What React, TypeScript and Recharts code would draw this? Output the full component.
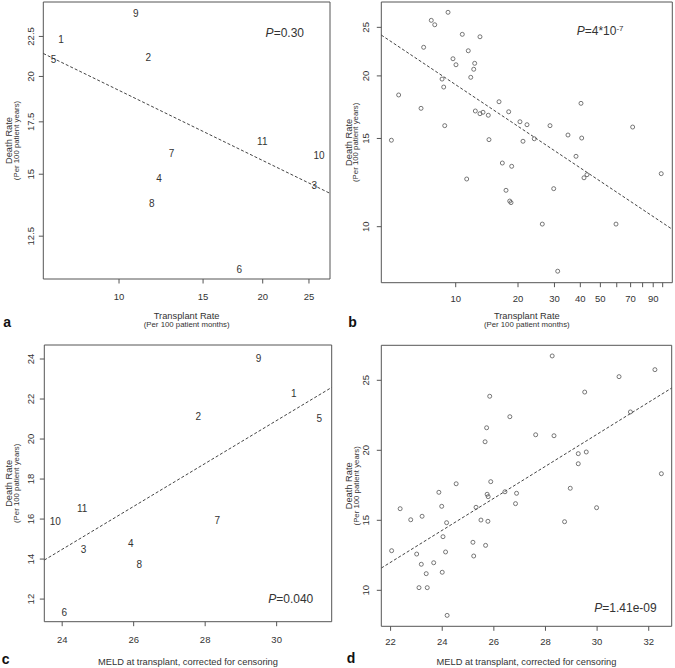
import React from 'react'
import { Label, ReferenceArea, ReferenceLine, Scatter, ScatterChart, XAxis, YAxis } from 'recharts'

const W = 675
const H = 668
const AXIS_W = 30
const AXIS_H = 30
const FONT = '"Liberation Sans", Arial, Helvetica, sans-serif'
const INK = '#333'
const FRAME = '#555'

// regions (panels a and c): labelled by region number
const regionIds = ['1', '2', '3', '4', '5', '6', '7', '8', '9', '10', '11']
const regionTxRate = [7.56, 11.52, 25.65, 12.13, 7.29, 17.87, 12.89, 11.71, 10.84, 26.24, 19.96]
const regionMeld = [30.48, 27.81, 24.6, 25.92, 31.19, 24.06, 28.34, 26.16, 29.49, 23.81, 24.56]
const regionDeathRate = [22.3, 21.15, 14.5, 14.8, 21.05, 11.35, 15.95, 13.75, 24.05, 15.87, 16.52]

// transplant centers (panel b)
const centerTxRate = [
  4.89, 5.3, 6.8, 7.0, 7.62, 7.92, 8.59, 8.75, 8.85, 9.18, 9.7, 10.03, 10.76, 11.3, 11.5, 11.82,
  12.22, 12.35, 12.44, 13.1, 13.1, 13.55, 14.37, 14.48, 16.19, 16.8, 17.5, 18.03, 18.24, 18.5,
  18.64, 20.44, 21.14, 22.1, 23.97, 26.2, 28.55, 29.75, 31.1, 34.87, 38.13, 40.3, 40.62, 41.67,
  43.08, 59.5, 71.6, 98.4,
]
const centerDeathRateB = [
  14.88, 18.32, 17.23, 22.81, 25.82, 25.3, 19.71, 19.0, 15.91, 26.79, 21.64, 21.05, 24.21, 12.45,
  22.45, 19.87, 20.62, 21.19, 17.02, 23.94, 16.81, 16.92, 16.69, 14.92, 17.76, 13.4, 11.82, 16.96,
  11.25, 11.17, 13.2, 16.2, 14.81, 15.98, 14.98, 10.12, 15.91, 11.91, 8.15, 15.24, 13.82, 17.63,
  15.03, 12.52, 12.7, 10.12, 15.81, 12.76,
]

// transplant centers (panel d)
const centerMeld = [
  22.04, 22.37, 22.78, 23.01, 23.1, 23.19, 23.22, 23.38, 23.42, 23.67, 23.87, 23.98, 24.0, 24.03,
  24.13, 24.17, 24.19, 24.54, 25.19, 25.22, 25.31, 25.5, 25.66, 25.68, 25.72, 25.74, 25.77, 25.78,
  25.84, 25.88, 26.43, 26.62, 26.84, 26.88, 27.62, 28.26, 28.33, 28.74, 28.96, 29.27, 29.27, 29.52,
  29.58, 29.98, 30.85, 31.29, 32.24, 32.49,
]
const centerDeathRateD = [
  12.83, 15.83, 15.04, 12.59, 10.19, 11.86, 15.29, 11.19, 10.19, 11.97, 17.0, 16.0, 11.29, 13.83,
  12.74, 14.83, 8.21, 17.61, 13.43, 12.45, 15.93, 15.02, 20.61, 13.21, 21.61, 16.86, 14.93, 16.69,
  23.86, 17.76, 17.04, 22.4, 16.19, 16.93, 21.11, 26.74, 21.04, 14.9, 17.29, 19.76, 19.04, 24.16,
  19.88, 15.9, 25.26, 22.74, 25.76, 18.33,
]

// fitted regression lines, end points
const fitAX = [6.94, 27.67]
const fitAY = [21.4, 14.18]
const fitBX = [4.37, 111.3]
const fitBY = [24.13, 9.88]
const fitCX = [23.5, 31.54]
const fitCY = [13.95, 22.58]
const fitDX = [21.64, 32.89]
const fitDY = [11.59, 24.45]

// ticks
const rateTicksA = [10, 15, 20, 25]
const deathTicksA = [12.5, 15, 17.5, 20, 22.5]
const rateTicksB = [10, 20, 30, 40, 50, 60, 70, 80, 90, 100]
const rateTicksBHidden = [60, 80, 100]
const deathTicksB = [10, 15, 20, 25]
const meldTicksC = [24, 26, 28, 30]
const deathTicksC = [12, 14, 16, 18, 20, 22, 24]
const meldTicksD = [22, 24, 26, 28, 30, 32]
const deathTicksD = [10, 15, 20, 25]

type Box = { left: number; top: number; right: number; bottom: number }
type Pt = { x: number; y: number; id?: string }

interface PanelProps {
  box: Box
  xLog?: boolean
  yLog?: boolean
  xDomain: [number, number]
  yDomain: [number, number]
  xTicks: number[]
  yTicks: number[]
  hiddenX?: number[]
  points: Pt[]
  textMarks?: boolean
  fitX: number[]
  fitY: number[]
  xTickBase: number
  yTickBase: number
  decor: React.ReactNode
}

function Panel(p: PanelProps) {
  const { box } = p
  const margin = {
    top: box.top,
    left: box.left - AXIS_W,
    right: W - box.right,
    bottom: H - box.bottom - AXIS_H,
  }
  const fmt = (v: number) => (p.hiddenX && p.hiddenX.includes(v) ? '' : String(v))
  return (
    <ScatterChart width={W} height={H} margin={margin} style={{ position: 'absolute', left: 0, top: 0 }}>
      <XAxis
        type="number"
        dataKey="x"
        scale={p.xLog ? 'log' : 'linear'}
        domain={p.xDomain}
        ticks={p.xTicks}
        interval={0}
        allowDataOverflow
        height={AXIS_H}
        axisLine={false}
        tickLine={{ stroke: FRAME }}
        tickSize={4.5}
        tick={(t: any) => (
          <text x={t.x} y={p.xTickBase} textAnchor="middle" fontSize={9.5} fill={INK} fontFamily={FONT}>
            {fmt(t.payload.value)}
          </text>
        )}
      >
        <Label content={() => <g>{p.decor}</g>} />
      </XAxis>
      <YAxis
        type="number"
        dataKey="y"
        scale={p.yLog ? 'log' : 'linear'}
        domain={p.yDomain}
        ticks={p.yTicks}
        interval={0}
        allowDataOverflow
        width={AXIS_W}
        axisLine={false}
        tickLine={{ stroke: FRAME }}
        tickSize={4.5}
        tick={(t: any) => (
          <text
            x={p.yTickBase}
            y={t.y}
            transform={`rotate(-90 ${p.yTickBase} ${t.y})`}
            textAnchor="middle"
            fontSize={9.5}
            fill={INK}
            fontFamily={FONT}
          >
            {t.payload.value}
          </text>
        )}
      />
      <ReferenceArea
        x1={p.xDomain[0]}
        x2={p.xDomain[1]}
        y1={p.yDomain[0]}
        y2={p.yDomain[1]}
        fill="none"
        stroke={FRAME}
        strokeWidth={1}
        ifOverflow="visible"
      />
      <ReferenceLine
        segment={[
          { x: p.fitX[0], y: p.fitY[0] },
          { x: p.fitX[1], y: p.fitY[1] },
        ]}
        stroke="#444"
        strokeDasharray="3 2"
        ifOverflow="visible"
      />
      <Scatter
        data={p.points}
        isAnimationActive={false}
        shape={(s: any) =>
          p.textMarks ? (
            <text x={s.cx} y={s.cy + 3.6} textAnchor="middle" fontSize={10} fill={INK} fontFamily={FONT}>
              {s.payload.id}
            </text>
          ) : (
            <circle cx={s.cx} cy={s.cy} r={2} fill="none" stroke={FRAME} strokeWidth={0.8} />
          )
        }
      />
    </ScatterChart>
  )
}

function XTitle({ x, y, title, sub }: { x: number; y: number; title: string; sub?: string }) {
  return (
    <g fontFamily={FONT} fill={INK} textAnchor="middle">
      <text x={x} y={y} fontSize={9.3}>{title}</text>
      {sub && <text x={x} y={y + 8} fontSize={7.8}>{sub}</text>}
    </g>
  )
}

function YTitle({ x, y }: { x: number; y: number }) {
  return (
    <g fontFamily={FONT} fill={INK} textAnchor="middle">
      <text x={x} y={y} transform={`rotate(-90 ${x} ${y})`} fontSize={9.3}>Death Rate</text>
      <text x={x + 6.8} y={y} transform={`rotate(-90 ${x + 6.8} ${y})`} fontSize={7.8}>
        (Per 100 patient years)
      </text>
    </g>
  )
}

function Letter({ x, y, ch }: { x: number; y: number; ch: string }) {
  return (
    <text x={x} y={y} fontFamily={FONT} fontWeight="bold" fontSize={14} fill="#111">
      {ch}
    </text>
  )
}

function PText({ x, y, value, sup, anchor = 'end' }: { x: number; y: number; value: string; sup?: string; anchor?: string }) {
  return (
    <text x={x} y={y} fontFamily={FONT} fontSize={12} fill={INK} textAnchor={anchor as any}>
      <tspan fontStyle="italic">P</tspan>
      <tspan>{value}</tspan>
      {sup && (
        <tspan dy={-4.5} fontSize={8}>
          {sup}
        </tspan>
      )}
    </text>
  )
}

const toPts = (xs: number[], ys: number[], ids?: string[]): Pt[] =>
  xs.map((x, i) => ({ x, y: ys[i], id: ids ? ids[i] : undefined }))

export default function App() {
  const boxA = { left: 43.3, top: 2, right: 330, bottom: 279 }
  const boxB = { left: 381.3, top: 2, right: 672.3, bottom: 282.7 }
  const boxC = { left: 44.3, top: 345, right: 331.7, bottom: 621.7 }
  const boxD = { left: 381.3, top: 345.3, right: 671.7, bottom: 626.3 }
  const mid = (b: Box) => (b.left + b.right) / 2
  const vmid = (b: Box) => (b.top + b.bottom) / 2

  return (
    <div style={{ position: 'absolute', left: 0, top: 0, width: W, height: H, background: '#fff' }}>
      <Panel
        box={boxA}
        xLog
        yLog
        xDomain={[6.94, 27.67]}
        yDomain={[11.02, 24.9]}
        xTicks={rateTicksA}
        yTicks={deathTicksA}
        points={toPts(regionTxRate, regionDeathRate, regionIds)}
        textMarks
        fitX={fitAX}
        fitY={fitAY}
        xTickBase={300}
        yTickBase={34.5}
        decor={
          <>
            <XTitle x={mid(boxA)} y={318.5} title="Transplant Rate" sub="(Per 100 patient months)" />
            <YTitle x={11.7} y={vmid(boxA)} />
            <Letter x={3.3} y={326.7} ch="a" />
            <PText x={304} y={36.7} value="=0.30" />
          </>
        }
      />
      <Panel
        box={boxB}
        xLog
        yLog
        xDomain={[4.37, 111.3]}
        yDomain={[7.73, 28.09]}
        xTicks={rateTicksB}
        hiddenX={rateTicksBHidden}
        yTicks={deathTicksB}
        points={toPts(centerTxRate, centerDeathRateB)}
        fitX={fitBX}
        fitY={fitBY}
        xTickBase={301.5}
        yTickBase={369}
        decor={
          <>
            <XTitle x={mid(boxB)} y={318.5} title="Transplant Rate" sub="(Per 100 patient months)" />
            <YTitle x={351.7} y={vmid(boxB)} />
            <Letter x={348.3} y={326.7} ch="b" />
            <PText x={576.7} y={35} value="=4*10" sup="-7" anchor="start" />
          </>
        }
      />
      <Panel
        box={boxC}
        xDomain={[23.5, 31.54]}
        yDomain={[10.87, 24.7]}
        xTicks={meldTicksC}
        yTicks={deathTicksC}
        points={toPts(regionMeld, regionDeathRate, regionIds)}
        textMarks
        fitX={fitCX}
        fitY={fitCY}
        xTickBase={642.6}
        yTickBase={34.3}
        decor={
          <>
            <XTitle x={mid(boxC)} y={665} title="MELD at transplant, corrected for censoring" />
            <YTitle x={12.3} y={vmid(boxC)} />
            <Letter x={1.7} y={664} ch="c" />
            <PText x={313.3} y={602.7} value="=0.040" />
          </>
        }
      />
      <Panel
        box={boxD}
        xDomain={[21.64, 32.89]}
        yDomain={[7.43, 27.5]}
        xTicks={meldTicksD}
        yTicks={deathTicksD}
        points={toPts(centerMeld, centerDeathRateD)}
        fitX={fitDX}
        fitY={fitDY}
        xTickBase={645}
        yTickBase={369}
        decor={
          <>
            <XTitle x={mid(boxD)} y={665} title="MELD at transplant, corrected for censoring" />
            <YTitle x={352.3} y={vmid(boxD)} />
            <Letter x={346.7} y={663.3} ch="d" />
            <PText x={656.7} y={611.7} value="=1.41e-09" />
          </>
        }
      />
    </div>
  )
}
